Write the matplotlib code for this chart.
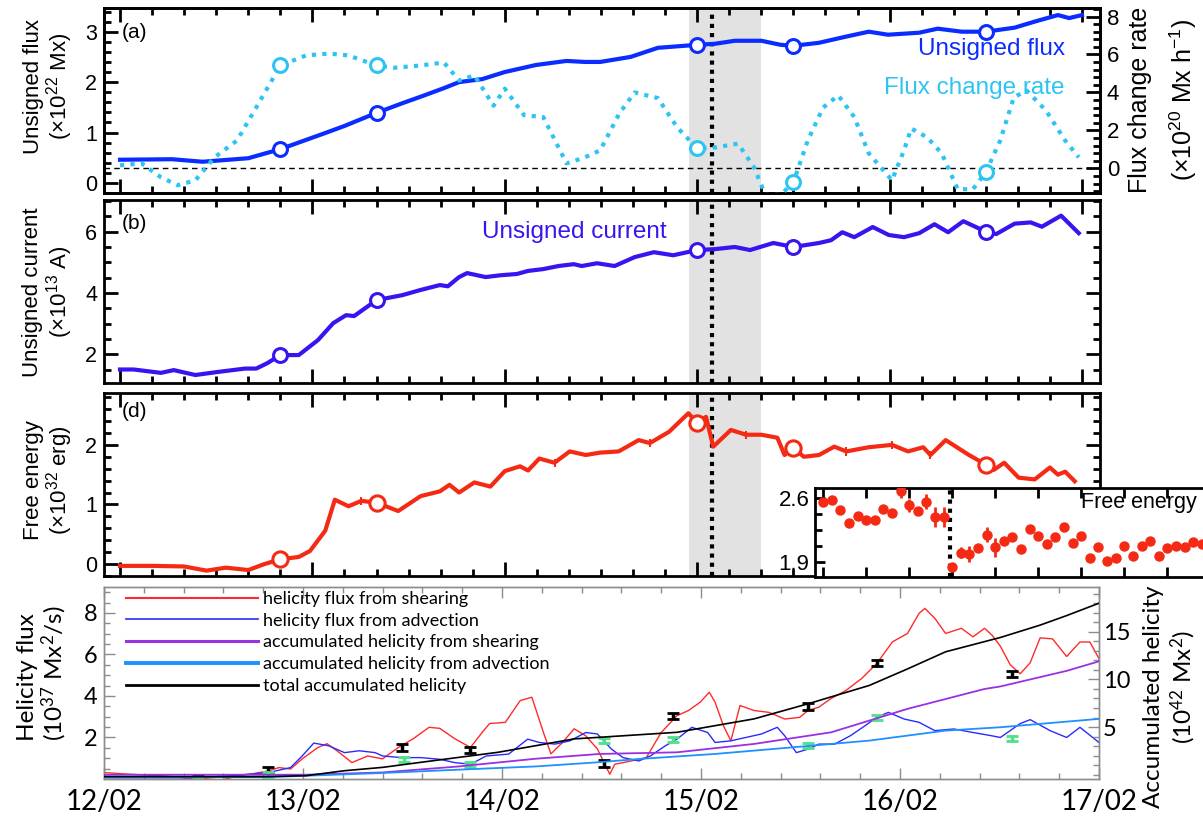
import numpy as np
import matplotlib
matplotlib.use("Agg")
import matplotlib.pyplot as plt
from matplotlib.lines import Line2D

# ---- data, time in hours from 12/02 00:00 ----
flux_h = [0, 6.5, 10.3, 16, 20, 25.6, 28, 32, 35.2, 37.5, 40.4, 42.3, 45.2, 48, 51.9,
          55.7, 58, 59.9, 63.7, 67.1, 72, 74.2, 76.7, 80, 82.4, 84, 87.2, 90.5, 93.4,
          95.8, 99.7, 102, 105, 108, 111.6, 114.1, 117, 118.4, 120]
flux_val = [0.46, 0.47, 0.42, 0.49, 0.67, 0.99, 1.13, 1.39, 1.58, 1.71, 1.88, 2.0, 2.06,
            2.2, 2.34, 2.42, 2.40, 2.40, 2.5, 2.68, 2.74, 2.76, 2.82, 2.82, 2.74, 2.72,
            2.78, 2.9, 3.0, 2.94, 2.98, 3.06, 3.0, 3.0, 3.08, 3.2, 3.33, 3.27, 3.33]

rate_h = [0, 2.7, 5.1, 7.2, 9.4, 11.8, 14.6, 17.5, 20, 23.2, 26.1, 28.5, 32, 34.2, 37.5,
          40.4, 42.3, 44.2, 46.6, 48, 50.4, 52.8, 55.7, 58, 59.9, 62.3, 64.2, 67.1, 69.5,
          72, 74.2, 77.1, 79.1, 80.5, 82.4, 84, 85.8, 87.7, 89.6, 91.6, 93.4, 96.3, 97.8,
          98.7, 100.7, 102.5, 104.5, 106.4, 108, 109.8, 111.5, 113.1, 115.5, 117.9, 119.6]
rate_val = [0.16, 0.26, -0.47, -0.89, -0.63, 0.58, 1.47, 3.58, 5.42, 5.95, 6.05, 5.95,
            5.42, 5.3, 5.42, 5.58, 4.63, 4.9, 3.3, 4.2, 2.8, 2.7, 0.26, 0.58, 0.95, 2.9,
            4.0, 3.7, 2.16, 1.05, 1.1, 1.3, 0.05, -1.4, -1.4, -0.74, 1.47, 3.2, 3.84, 2.7,
            0.79, -0.63, 0.95, 2.1, 1.63, 0.79, -1.1, -1.1, -0.21, 1.47, 3.74, 4.1, 3.05,
            1.47, 0.58]

cur_h = [0, 1.7, 5.1, 6.7, 9.4, 12.2, 15.6, 17, 18.4, 20, 22.3, 24.7, 26.6, 28.2, 29.2,
         32, 35.2, 37.5, 39.9, 40.9, 42.3, 43.3, 45.6, 47.5, 49.5, 50.9, 52.8, 54.7, 56.6,
         57.6, 59.5, 61.7, 64.2, 66.6, 69, 72, 74.2, 76.7, 78.6, 81.5, 84, 87.2, 88.7,
         90.1, 91.6, 93.9, 95.9, 97.8, 99.7, 101.6, 103.3, 105.2, 108, 109.3, 111.6,
         113.6, 115, 117.4, 119.6]
cur_val = [1.51, 1.51, 1.40, 1.49, 1.33, 1.43, 1.54, 1.54, 1.72, 1.98, 1.98, 2.47, 3.02,
           3.28, 3.25, 3.77, 3.93, 4.1, 4.26, 4.22, 4.52, 4.65, 4.52, 4.58, 4.62, 4.72,
           4.78, 4.88, 4.94, 4.88, 4.97, 4.88, 5.17, 5.33, 5.23, 5.4, 5.43, 5.5, 5.4, 5.63,
           5.5, 5.63, 5.72, 5.98, 5.82, 6.15, 5.89, 5.82, 5.95, 6.24, 5.98, 6.34, 6.0, 5.92,
           6.26, 6.3, 6.16, 6.52, 5.95]

fe_h = [0, 4.1, 8, 10.8, 13.2, 16, 18, 20, 22.3, 23.7, 25.6, 26.8, 28.5, 30.1, 32, 34.7,
        37.5, 39.9, 41.1, 42.3, 44.2, 46.2, 48, 49.9, 50.9, 52.3, 54.2, 56.1, 58.1, 59.9,
        62.2, 64.7, 66.1, 68.5, 70.9, 72, 73.1, 74, 76.2, 78.1, 80, 82, 82.9, 84, 85.3,
        87.2, 89.1, 90.6, 93.4, 96.3, 98.3, 100.2, 101.1, 103, 105.9, 108, 109, 110.3,
        112.1, 114.1, 116, 117, 117.9, 119.1]
fe_val = [-0.03, -0.03, -0.04, -0.11, -0.06, -0.10, 0.0, 0.08, 0.12, 0.22, 0.56, 1.08,
          0.97, 1.06, 1.03, 0.89, 1.14, 1.22, 1.33, 1.2, 1.37, 1.3, 1.56, 1.64, 1.57, 1.77,
          1.7, 1.89, 1.83, 1.87, 1.89, 2.08, 2.03, 2.22, 2.53, 2.37, 2.47, 1.97, 2.25, 2.17,
          2.17, 2.12, 1.83, 1.95, 1.8, 1.83, 1.97, 1.89, 1.96, 2.0, 1.89, 1.96, 1.83, 2.08,
          1.83, 1.67, 1.58, 1.7, 1.45, 1.42, 1.62, 1.5, 1.55, 1.39]
fe_err_h = [30.1, 54.2, 66.1, 78.1, 90.6, 96.3, 101.1]

circle_h = [20, 32, 72, 84, 108]
shade = [71, 80]
flare_h = 73.8

inset_val = [2.56, 2.58, 2.47, 2.33, 2.40, 2.36, 2.36, 2.48, 2.44, 2.68, 2.52, 2.46, 2.56,
             2.39, 2.39, 1.85, 2.0, 1.99, 2.05, 2.2, 2.06, 2.13, 2.17, 2.04, 2.26, 2.18,
             2.10, 2.17, 2.28, 2.11, 2.18, 1.94, 2.06, 1.91, 1.94, 2.07, 1.97, 2.07, 2.13,
             1.97, 2.05, 2.07, 2.06, 2.12, 2.10]
inset_err = [0, 0, 0, 0, 0, 0, 0, 0, 0, 0.08, 0.07, 0.04, 0.08, 0.11, 0.11, 0, 0.06, 0.09,
             0, 0.08, 0.1] + [0] * 24
inset_flare = 14.7

red_h = [0, 2.7, 5, 7.3, 9.6, 11.9, 14.2, 16.1, 17.9, 19.8, 21.1, 22.5, 23.9, 25.8, 26.9,
         28.1, 29.9, 31.8, 33.6, 35.5, 37.3, 39.2, 40.5, 42.3, 44.2, 45.6, 46.5, 48.4,
         50.2, 51.6, 53, 53.9, 55.3, 56.7, 58.1, 59.5, 61, 61.6, 63.6, 65.4, 67.2, 69.1,
         70.5, 71.9, 73, 73.7, 74.7, 75.6, 76.7, 78.4, 80.2, 82.1, 83.9, 84.9, 86.2, 87.7,
         89.5, 91.4, 93.2, 95.1, 96.9, 98.3, 99, 100.2, 101.5, 103.4, 104.8, 106.2, 107.1,
         108.1, 109.3, 110.5, 111.7, 112.9, 114.4, 116.1, 117.7, 118.9, 120]
red_val = [0.31, 0.24, 0.19, 0.15, 0.06, 0.02, -0.05, 0.15, 0.25, 0.39, 0.55, 0.48, 0.97,
           1.52, 1.70, 1.36, 0.79, 1.11, 0.97, 1.52, 1.94, 2.49, 2.44, 1.94, 1.52, 2.24,
           2.67, 2.73, 3.78, 3.94, 2.24, 1.21, 1.76, 2.42, 2.08, 1.45, 0.23, 0.71, 0.87,
           1.03, 2.24, 3.05, 3.3, 3.70, 4.18, 3.70, 2.57, 1.84, 3.54, 3.3, 3.21, 2.89, 2.97,
           3.30, 3.46, 3.88, 4.27, 4.85, 5.57, 6.61, 7.01, 7.98, 8.22, 7.74, 7.01, 7.26,
           6.85, 7.26, 6.93, 6.4, 5.5, 5.07, 5.6, 6.8, 6.75, 5.9, 6.6, 6.6, 5.8]

blue_h = [0, 10.5, 15.1, 19.8, 22.5, 23.9, 25.3, 27.1, 29, 30.8, 32.7, 33.6, 35.9, 38.2,
          40.5, 42.3, 44.2, 46.1, 48.8, 51.1, 52.5, 54.4, 56.2, 58.1, 59.5, 61.2, 62.6,
          64.5, 65.9, 67.7, 69.1, 70.9, 72.8, 73.7, 75.6, 77.4, 79.3, 81.2, 82.1, 83.5,
          84.9, 86.2, 88.1, 90, 91.8, 93.2, 94.6, 96.5, 98.3, 100.2, 102.5, 104.8, 107.1,
          108.1, 110.5, 111.7, 114.1, 116.1, 117.7, 120]
blue_val = [0.06, 0.06, 0.15, 0.31, 0.55, 1.11, 1.73, 1.60, 1.27, 1.36, 1.27, 1.11, 1.03,
            1.03, 0.95, 0.79, 0.71, 1.11, 1.20, 1.92, 1.76, 1.68, 1.84, 2.24, 2.17, 1.44,
            1.03, 0.87, 1.11, 1.60, 1.92, 2.49, 2.24, 1.76, 1.84, 2.00, 2.17, 2.49, 2.08,
            1.27, 1.44, 1.68, 1.68, 2.08, 2.57, 2.97, 3.21, 2.89, 2.73, 2.33, 2.41, 2.24,
            2.08, 2.0, 2.67, 2.86, 2.33, 2.0, 2.49, 1.76]

pur_h = [0, 24.4, 33.6, 42.8, 52.1, 59.8, 69.1, 78.4, 87.7, 96.9, 106.2, 108.1, 116.1, 120]
pur_val = [0, 0, 0.24, 0.87, 1.68, 2.18, 2.35, 3.23, 4.45, 6.91, 9.0, 9.26, 10.9, 11.9]

lb_h = [0, 19.8, 33.6, 42.8, 52.1, 59.5, 64.5, 73.7, 83, 92.3, 101.5, 108.1, 120]
lb_val = [-0.25, -0.25, 0.18, 0.53, 0.87, 1.3, 1.65, 2.18, 2.87, 3.58, 4.63, 4.98, 5.86]

tot_h = [0, 19.8, 24.4, 29, 33.6, 38.2, 42.8, 47.5, 52.1, 56.7, 59.8, 69.1, 78.4, 84.9,
         92.3, 96.9, 101.5, 108.1, 112.9, 116.1, 120]
tot_val = [-0.2, -0.2, -0.1, 0.42, 0.77, 1.3, 1.82, 2.35, 3.05, 3.76, 3.93, 4.45, 5.86,
           7.44, 9.37, 11.1, 12.9, 14.4, 15.7, 16.7, 18.0]

blk_err_h = [11.3, 19.8, 35.9, 44.2, 60.3, 68.6, 84.9, 93.2, 109.5]
blk_err_v = [0.0, 0.44, 1.52, 1.40, 0.75, 3.05, 3.49, 5.57, 5.07]
grn_err_h = [11.3, 19.8, 36.2, 44.2, 60.3, 68.6, 84.9, 93.2, 109.5]
grn_err_v = [0.0, 0.2, 0.95, 0.71, 1.84, 1.89, 1.6, 2.97, 1.97]

day_labels = ['12/02', '13/02', '14/02', '15/02', '16/02', '17/02']
legend_labels = ['helicity flux from shearing', 'helicity flux from advection',
                 'accumulated helicity from shearing', 'accumulated helicity from advection',
                 'total accumulated helicity']

c_flux = '#0a2cff'
c_rate = '#2ec4f2'
c_cur = '#3a14f0'
c_fe = '#f52a14'

plt.rcParams['font.family'] = ['Liberation Sans', 'DejaVu Sans']
plt.rcParams['mathtext.fontset'] = 'custom'
plt.rcParams['mathtext.rm'] = 'Liberation Sans'
plt.rcParams['mathtext.default'] = 'regular'

W, H = 1203, 816
fig = plt.figure(figsize=(W / 100, H / 100), dpi=100)


def px_box(x0, y0, x1, y1):
    return [x0 / W, 1 - y1 / H, (x1 - x0) / W, (y1 - y0) / H]


def top_style(ax):
    for s in ax.spines.values():
        s.set_linewidth(2)
    ax.set_xlim(-2, 122.25)
    ax.set_xticks(np.arange(0, 121, 24))
    ax.set_xticks(np.arange(0, 121, 4), minor=True)
    ax.tick_params(which='both', direction='in', top=True, bottom=True,
                   labelbottom=False, width=2, labelsize=15.5, pad=5)
    ax.tick_params(which='major', length=10)
    ax.tick_params(which='minor', length=5)
    ax.axvspan(shade[0], shade[1], color='#e2e2e2', lw=0, zorder=0)
    ax.axvline(flare_h, color='k', lw=3, ls=(0, (1, 1.2)), zorder=1)


def left_label(y, l1, l2):
    fig.text(33 / W, 1 - y / H, l1, rotation=90, ha='center', va='center', fontsize=16)
    fig.text(60 / W, 1 - y / H, l2, rotation=90, ha='center', va='center', fontsize=16)


# ---- (a) flux ----
axa = fig.add_axes(px_box(104, 8, 1100, 193))
top_style(axa)
axa.plot(flux_h, flux_val, color=c_flux, lw=3, zorder=3)
axa.plot(circle_h, np.interp(circle_h, flux_h, flux_val), 'o', mfc='white', mec=c_flux,
         mew=2.2, ms=10, zorder=4)
axa.set_ylim(-0.2, 3.47)
axa.set_yticks([0, 1, 2, 3])
axa.set_yticks(np.arange(-0.2, 3.5, 0.2), minor=True)
axa.tick_params(which='both', right=False)
axa.text(0.018, 0.87, '(a)', transform=axa.transAxes, fontsize=15, va='center')

axr = axa.twinx()
for s in axr.spines.values():
    s.set_linewidth(2)
axr.plot(rate_h, rate_val, color=c_rate, lw=3, ls=(0, (1, 1.5)), zorder=3)
axr.plot(circle_h, np.interp(circle_h, rate_h, rate_val), 'o', mfc='white', mec=c_rate,
         mew=2.2, ms=10, zorder=4)
axr.axhline(0, color='k', lw=1, ls=(0, (4, 3)), zorder=1)
axr.set_ylim(-1.3, 8.45)
axr.set_yticks([0, 2, 4, 6, 8])
axr.set_yticks(np.arange(-1.2, 8.45, 0.4), minor=True)
axr.tick_params(which='both', direction='in', width=2, labelsize=16, pad=5)
axr.tick_params(which='major', length=10)
axr.tick_params(which='minor', length=5)
axa.text(1065 / W, 1 - 49 / H, 'Unsigned flux', transform=fig.transFigure, color=c_flux,
         fontsize=17.5, ha='right', va='center')
axa.text(1065 / W, 1 - 88 / H, 'Flux change rate', transform=fig.transFigure, color=c_rate,
         fontsize=17.5, ha='right', va='center')
left_label(86, 'Unsigned flux', '(×10$^{22}$ Mx)')
fig.text(1140 / W, 1 - 100 / H, 'Flux change rate', rotation=90, ha='center', va='center',
         fontsize=18)
fig.text(1183 / W, 1 - 100 / H, '(×10$^{20}$ Mx h$^{-1}$)', rotation=90, ha='center',
         va='center', fontsize=18)

# ---- (b) current ----
axb = fig.add_axes(px_box(104, 200, 1100, 383))
top_style(axb)
axb.tick_params(which='both', right=True)
axb.plot(cur_h, cur_val, color=c_cur, lw=3, zorder=3)
axb.plot(circle_h, np.interp(circle_h, cur_h, cur_val), 'o', mfc='white', mec=c_cur,
         mew=2.2, ms=10, zorder=4)
axb.set_ylim(1.07, 7.03)
axb.set_yticks([2, 4, 6])
axb.set_yticks(np.arange(1.5, 7.01, 0.5), minor=True)
axb.text(0.018, 0.874, '(b)', transform=axb.transAxes, fontsize=15, va='center')
axb.text(574.5 / W, 1 - 232 / H, 'Unsigned current', transform=fig.transFigure,
         color=c_cur, fontsize=17.5, ha='center', va='center')
left_label(292, 'Unsigned current', '(×10$^{13}$ A)')

# ---- (d) free energy ----
axd = fig.add_axes(px_box(104, 393, 1100, 576))
top_style(axd)
axd.tick_params(which='both', right=True)
axd.plot(fe_h, fe_val, color=c_fe, lw=3, zorder=3)
axd.errorbar(fe_err_h, np.interp(fe_err_h, fe_h, fe_val), yerr=0.07, fmt='none',
             ecolor=c_fe, elinewidth=1.5, zorder=3)
axd.plot(circle_h, np.interp(circle_h, fe_h, fe_val), 'o', mfc='white', mec=c_fe,
         mew=2.2, ms=11, zorder=4)
axd.set_ylim(-0.18, 2.87)
axd.set_yticks([0, 1, 2])
axd.set_yticks(np.arange(-0.2, 2.87, 0.2), minor=True)
axd.text(0.018, 0.9, '(d)', transform=axd.transAxes, fontsize=15, va='center')
left_label(480, 'Free energy', '(×10$^{32}$ erg)')

# ---- inset ----
axi = fig.add_axes(px_box(815, 488, 1225, 577))
axi.set_facecolor('white')
for s in axi.spines.values():
    s.set_linewidth(2)
idx = np.arange(len(inset_val))
axi.errorbar(idx, inset_val, yerr=inset_err, fmt='o', ms=6.5, color=c_fe, ecolor=c_fe,
             elinewidth=2, capsize=0, zorder=3)
axi.axvline(inset_flare, color='k', lw=3, ls=(0, (1, 1.2)), zorder=2)
axi.set_xlim(-0.94, 46.7)
axi.set_ylim(1.736, 2.709)
axi.set_yticks([1.9, 2.6])
axi.set_yticklabels(['1.9', '2.6'])
axi.set_yticks([2.075, 2.25, 2.425], minor=True)
axi.set_xticks(np.arange(0, 47, 5))
axi.tick_params(which='both', direction='in', top=True, bottom=True, labelbottom=False,
                width=2, labelsize=16, pad=4)
axi.tick_params(which='major', length=7)
axi.tick_params(which='minor', length=5)
axi.text(0.93, 0.84, 'Free energy', transform=axi.transAxes, ha='right', va='center',
         fontsize=15.5)

# ---- bottom: helicity ----
gray = '#8c8c8c'
axh = fig.add_axes(px_box(104, 587, 1099, 779))
axh.plot(red_h, red_val, color='#ff2a2a', lw=1, zorder=3)
axh.plot(blue_h, blue_val, color='#2a2aff', lw=1, zorder=3)
axh.errorbar(blk_err_h, blk_err_v, yerr=0.15, fmt='none', ecolor='k', elinewidth=2.5,
             capsize=4, capthick=2, zorder=5)
axh.errorbar(grn_err_h, grn_err_v, yerr=0.12, fmt='none', ecolor='#4ee08a',
             elinewidth=2.5, capsize=4, capthick=2, zorder=5)
axh.set_xlim(0, 120)
axh.set_ylim(0, 9.25)
axh.set_xticks(np.arange(0, 121, 24))
axh.set_xticklabels(day_labels)
axh.set_xticks(np.arange(0, 120.1, 4.8), minor=True)
axh.set_yticks([2, 4, 6, 8])
axh.set_yticks(np.arange(0.5, 9.25, 0.5), minor=True)
axh.tick_params(which='both', direction='in', top=True, color=gray, width=1,
                labelfontfamily='Lato')
axh.tick_params(which='major', length=8)
axh.tick_params(which='minor', length=4)
axh.tick_params(axis='x', labelsize=20, pad=7)
axh.tick_params(axis='y', labelsize=17, pad=5)

axh2 = axh.twinx()
axh2.plot(pur_h, pur_val, color='#9b30e0', lw=1.3, zorder=3)
axh2.plot(lb_h, lb_val, color='#1e90ff', lw=1.3, zorder=3)
axh2.plot(tot_h, tot_val, color='k', lw=1.2, zorder=3)
axh2.set_ylim(-0.45, 19.7)
axh2.set_yticks([5, 10, 15])
axh2.set_yticks(np.arange(0, 19.7, 1), minor=True)
axh2.tick_params(which='both', direction='in', color=gray, width=1, labelsize=17, pad=3,
                 labelfontfamily='Lato')
axh2.tick_params(which='major', length=8)
axh2.tick_params(which='minor', length=4)
for a in (axh, axh2):
    for s in a.spines.values():
        s.set_color(gray)
        s.set_linewidth(1)

handles = [Line2D([], [], color='#ff2a2a', lw=1.5),
           Line2D([], [], color='#2a2aff', lw=1.2),
           Line2D([], [], color='#9b30e0', lw=2.2),
           Line2D([], [], color='#1e90ff', lw=2.8),
           Line2D([], [], color='k', lw=2)]
axh2.legend(handles, legend_labels, loc='upper left', bbox_to_anchor=(0.022, 0.98),
            frameon=False, borderpad=0, borderaxespad=0, handlelength=7.3,
            handletextpad=0.3, labelspacing=0.32, prop={'family': 'Lato', 'size': 13})

fig.text(27 / W, 1 - 677 / H, 'Helicity flux', rotation=90, ha='center', va='center',
         fontsize=17.5, family='Lato')
fig.text(54 / W, 1 - 673 / H, '(10$^{37}$ Mx$^{2}$/s)', rotation=90, ha='center',
         va='center', fontsize=17.5, family='Lato')
fig.text(1153 / W, 1 - 697 / H, 'Accumulated helicity', rotation=90, ha='center',
         va='center', fontsize=17.5, family='Lato')
fig.text(1183 / W, 1 - 687 / H, '(10$^{42}$ Mx$^{2}$)', rotation=90, ha='center',
         va='center', fontsize=17.5, family='Lato')

fig.savefig('out.png', dpi=100)
